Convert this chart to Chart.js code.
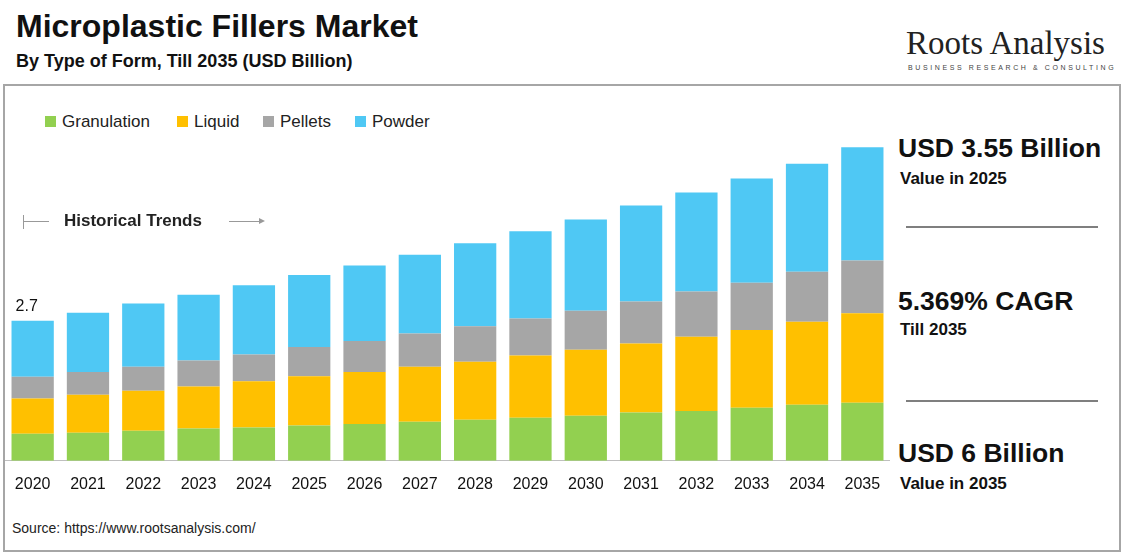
<!DOCTYPE html><html><head><meta charset="utf-8">
<script src="https://cdn.jsdelivr.net/npm/chart.js@4"></script>
<style>
body{margin:0;width:1123px;height:553px;background:#fff;font-family:Arial,"Liberation Sans",sans-serif;position:relative;overflow:hidden}
.abs{position:absolute}
#frame{left:3px;top:84px;width:1114px;height:464px;border:2px solid #a6a6a6}
#wrap{left:5px;top:100px;width:885px;height:400px}
.hr{position:absolute;left:906px;width:192px;height:2px;background:#7f7f7f}
.lg{position:absolute;top:112px;font-size:17px;color:#222;white-space:nowrap}
.lg i{display:inline-block;width:11px;height:11px;margin-right:6px;vertical-align:0px}
</style></head><body>
<div class="abs" style="left:16px;top:8px;font-size:32px;font-weight:bold;color:#111">Microplastic Fillers Market</div>
<div class="abs" style="left:16px;top:51px;font-size:18px;font-weight:bold;color:#111">By Type of Form, Till 2035 (USD Billion)</div>
<div class="abs" style="left:906px;top:25px;font-size:33px;font-family:'Liberation Serif',serif;color:#222">Roots Analysis</div>
<div class="abs" style="left:908px;top:64px;font-size:7px;letter-spacing:2.6px;color:#444">BUSINESS RESEARCH &amp; CONSULTING</div>
<div class="abs" id="frame"></div>
<div class="lg" style="left:45px"><i style="background:#92d050"></i>Granulation</div>
<div class="lg" style="left:177px"><i style="background:#ffc000"></i>Liquid</div>
<div class="lg" style="left:263px"><i style="background:#a6a6a6"></i>Pellets</div>
<div class="lg" style="left:355px"><i style="background:#4fc8f4"></i>Powder</div>
<div class="abs" id="wrap"><canvas id="c"></canvas></div>
<div class="abs" style="left:23px;top:215px;width:1px;height:14px;background:#999"></div>
<div class="abs" style="left:23px;top:221px;width:26px;height:1px;background:#999"></div>
<div class="abs" style="left:64px;top:211px;font-size:17px;font-weight:bold;color:#222">Historical Trends</div>
<div class="abs" style="left:229px;top:221px;width:34px;height:1px;background:#999"></div>
<div class="abs" style="left:259px;top:218px;width:0;height:0;border-left:6px solid #999;border-top:3.5px solid transparent;border-bottom:3.5px solid transparent"></div>
<div class="abs" style="left:898px;top:133px;font-size:26.5px;font-weight:bold;color:#111">USD 3.55 Billion</div>
<div class="abs" style="left:900px;top:169px;font-size:17px;font-weight:bold;color:#111">Value in 2025</div>
<div class="hr" style="top:226px"></div>
<div class="abs" style="left:898px;top:286px;font-size:26.5px;font-weight:bold;color:#111">5.369% CAGR</div>
<div class="abs" style="left:900px;top:320px;font-size:17px;font-weight:bold;color:#111">Till 2035</div>
<div class="hr" style="top:400px"></div>
<div class="abs" style="left:898px;top:438px;font-size:26.5px;font-weight:bold;color:#111">USD 6 Billion</div>
<div class="abs" style="left:900px;top:474px;font-size:17px;font-weight:bold;color:#111">Value in 2035</div>
<div class="abs" style="left:12px;top:520px;font-size:14px;color:#222">Source: https://www.rootsanalysis.com/</div>
<script>
const years=["2020","2021","2022","2023","2024","2025","2026","2027","2028","2029","2030","2031","2032","2033","2034","2035"];
const granulation=[0.52,0.54,0.58,0.62,0.64,0.68,0.71,0.75,0.79,0.83,0.87,0.93,0.96,1.02,1.08,1.12];
const liquid=[0.68,0.73,0.77,0.81,0.89,0.95,1.00,1.06,1.12,1.20,1.27,1.33,1.43,1.50,1.60,1.72];
const pellets=[0.42,0.44,0.46,0.50,0.52,0.56,0.60,0.64,0.68,0.71,0.75,0.81,0.87,0.91,0.96,1.02];
const powder=[1.08,1.14,1.22,1.27,1.33,1.39,1.45,1.52,1.60,1.68,1.76,1.85,1.91,2.01,2.08,2.18];
const firstLabel="2.7";
const mk=(l,d,c)=>({label:l,data:d,backgroundColor:c,barPercentage:0.78,categoryPercentage:0.98});
new Chart(document.getElementById('c'),{type:'bar',
data:{labels:years,datasets:[mk('Granulation',granulation,'#92d050'),mk('Liquid',liquid,'#ffc000'),mk('Pellets',pellets,'#a6a6a6'),mk('Powder',powder,'#4fc8f4')]},
options:{responsive:true,maintainAspectRatio:false,animation:false,
plugins:{tooltip:{enabled:false},legend:{display:false}},
scales:{x:{stacked:true,grid:{display:false},border:{color:'#bfbfbf'},ticks:{font:{size:16,family:'Arial'},color:'#111',padding:6}},
y:{stacked:true,display:false,min:0,max:6.95}}},
plugins:[{id:'lbl',afterDatasetsDraw(ch){const m=ch.getDatasetMeta(3).data[0];const x=ch.ctx;x.save();x.font='16px Arial';x.fillStyle='#111';x.textAlign='center';x.fillText(firstLabel,m.x-6,m.y-10);x.restore();}}]
});
</script></body></html>
